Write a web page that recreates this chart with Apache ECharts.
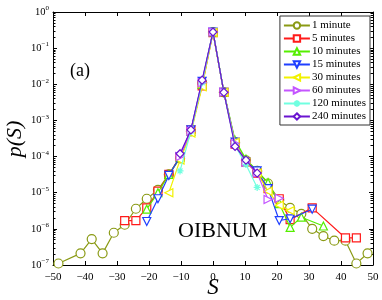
<!DOCTYPE html>
<html><head><meta charset="utf-8">
<script src="https://cdn.jsdelivr.net/npm/echarts@6/dist/echarts.min.js"></script>
<style>html,body{margin:0;padding:0;background:#fff}#c{width:382px;height:300px}</style>
</head><body><div id="c"></div>
<script>
const names = ['1 minute','5 minutes','10 minutes','15 minutes','30 minutes','60 minutes','120 minutes','240 minutes'];
const x1 = [-48.3,-41.4,-37.9,-34.5,-31.0,-27.6,-24.1,-20.7,-17.2,-13.8,-10.3,-6.9,-3.4,0,3.4,6.9,10.3,13.8,17.2,20.7,24.1,27.6,31.0,34.5,37.9,41.4,44.8,48.3];
const y1 = [1.1e-7,2.1e-7,5.2e-7,2.1e-7,7.8e-7,1.3e-6,3.6e-6,6.8e-6,1.2e-5,3.2e-5,8.9e-5,5.0e-4,1.1e-2,0.28,6.0e-3,2.5e-4,7.9e-5,4.0e-5,1.8e-5,6.3e-6,3.8e-6,2.6e-6,1.0e-6,6.3e-7,4.7e-7,4.7e-7,1.1e-7,2.1e-7];
const x5 = [-27.6,-24.1,-20.7,-17.2,-13.8,-10.3,-6.9,-3.4,0,3.4,6.9,10.3,13.8,17.2,20.7,24.1,31.0,41.4,44.8];
const y5 = [1.7e-6,1.7e-6,3.8e-6,1.1e-5,3.2e-5,1.0e-4,5.5e-4,9.0e-3,0.27,6.0e-3,2.2e-4,7.0e-5,3.5e-5,1.3e-5,6.8e-6,1.8e-6,3.8e-6,5.6e-7,5.6e-7];
const x10 = [-20.7,-17.2,-13.8,-10.3,-6.9,-3.4,0,3.4,6.9,10.3,13.8,17.2,20.7,24.1,27.6,34.5];
const y10 = [3.5e-6,1.0e-5,3.2e-5,9.5e-5,5.0e-4,1.0e-2,0.28,6.2e-3,2.8e-4,8.5e-5,4.0e-5,1.9e-5,5.0e-6,1.1e-6,2.1e-6,1.2e-6];
const x15 = [-20.7,-17.2,-13.8,-10.3,-6.9,-3.4,0,3.4,6.9,10.3,13.8,17.2,20.7,24.1,31.0];
const y15 = [1.6e-6,6.8e-6,3.0e-5,1.0e-4,5.5e-4,1.2e-2,0.28,6.0e-3,2.5e-4,7.0e-5,4.0e-5,1.3e-5,1.7e-6,1.9e-6,3.5e-6];
const x30 = [-13.8,-10.3,-6.9,-3.4,0,3.4,6.9,10.3,13.8,17.2,20.7,24.1];
const y30 = [1.0e-5,8.0e-5,4.5e-4,8.5e-3,0.27,6.0e-3,2.5e-4,7.0e-5,3.5e-5,1.1e-5,4.5e-6,3.2e-6];
const x60 = [-10.3,-6.9,-3.4,0,3.4,6.9,10.3,13.8,17.2,20.7];
const y60 = [1.0e-4,5.0e-4,1.1e-2,0.28,6.0e-3,2.3e-4,7.0e-5,3.5e-5,6.5e-6,7.0e-6];
const x120 = [-10.3,-6.9,-3.4,0,3.4,6.9,10.3,13.8];
const y120 = [4.0e-5,5.0e-4,1.1e-2,0.28,6.0e-3,2.0e-4,6.0e-5,1.4e-5];
const x240 = [-10.3,-6.9,-3.4,0,3.4,6.9,10.3,13.8];
const y240 = [1.2e-4,5.5e-4,1.3e-2,0.28,6.0e-3,1.9e-4,8.0e-5,3.5e-5];
const xs = [x1,x5,x10,x15,x30,x60,x120,x240];
const ys = [y1,y5,y10,y15,y30,y60,y120,y240];
const colors = ['#8a9a14','#ff1a1a','#55ee00','#1f3fff','#f2f200','#c455ff','#70ffe0','#6a14d0'];
const symbols = ['circle','rect','triangle','triangle','triangle','triangle','path://M0,5L10,5M5,0L5,10M1.5,1.5L8.5,8.5M8.5,1.5L1.5,8.5','diamond'];
const rotations = [0,0,0,180,90,-90,0,0];

const minorVals = [];
for (let e = -7; e < 0; e++) for (let k = 2; k <= 9; k++) minorVals.push(e + Math.log10(k));

const serif = 'Liberation Serif';
const series = names.map((n, i) => ({
  name: n, type: 'line', xAxisIndex: 0, yAxisIndex: 0,
  data: xs[i].map((x, j) => [x, ys[i][j]]),
  symbol: symbols[i], symbolRotate: rotations[i],
  symbolSize: i === 6 ? 7 : (i === 0 ? 9 : 8),
  lineStyle: { color: colors[i], width: 1.2 },
  itemStyle: { color: i === 6 ? colors[i] : '#fff', borderColor: colors[i], borderWidth: 1.2 },
  emphasis: { disabled: true },
  z: 2 + i, animation: false
}));

const lineStyleAxis = { onZero: false, show: true, lineStyle: { color: '#000', width: 1 } };
const chart = echarts.init(document.getElementById('c'), null, { renderer: 'canvas' });
chart.setOption({
  animation: false,
  grid: { left: 53, right: 9, top: 12, bottom: 35 },
  legend: {
    data: names, orient: 'vertical', right: 12, top: 16,
    backgroundColor: '#fff', borderColor: '#333', borderWidth: 1,
    padding: [3, 4, 2, 3], itemGap: 0, itemWidth: 26, itemHeight: 8,
    textStyle: { fontFamily: serif, fontSize: 11, color: '#000', lineHeight: 13, padding: [0,0,0,-3] }
  },
  xAxis: [
    { type: 'value', min: -50, max: 50, interval: 10, position: 'bottom',
      axisLine: lineStyleAxis,
      axisTick: { inside: true, length: 4, lineStyle: { color: '#000' } },
      axisLabel: { fontFamily: serif, fontSize: 11, color: '#000', margin: 7,
        formatter: v => String(v).replace('-', '\u2212') },
      splitLine: { show: false } },
    { type: 'value', min: -50, max: 50, interval: 10, position: 'top',
      axisLine: lineStyleAxis,
      axisTick: { inside: true, length: 4, lineStyle: { color: '#000' } },
      axisLabel: { show: false }, splitLine: { show: false } }
  ],
  yAxis: [
    { type: 'log', logBase: 10, min: 1e-7, max: 1, interval: 1, position: 'left',
      axisLine: lineStyleAxis,
      axisTick: { inside: true, length: 4, lineStyle: { color: '#000' } },
      axisLabel: { margin: 4,
        formatter: v => '{b|10}{s|' + Math.round(Math.log10(v)).toString().replace('-', '\u2212') + '}',
        rich: { b: { fontFamily: serif, fontSize: 10.5, color: '#000' },
                s: { fontFamily: serif, fontSize: 7, color: '#000', padding: [0, 0, 7, 0] } } },
      splitLine: { show: false } },
    { type: 'log', logBase: 10, min: 1e-7, max: 1, interval: 1, position: 'right',
      axisLine: lineStyleAxis,
      axisTick: { inside: true, length: 4, lineStyle: { color: '#000' } },
      axisLabel: { show: false }, splitLine: { show: false } },
    { type: 'value', min: -7, max: 0, position: 'left',
      axisLine: { show: false, onZero: false },
      axisTick: { show: true, inside: true, length: 2.5, customValues: minorVals, lineStyle: { color: '#000' } },
      axisLabel: { show: false }, splitLine: { show: false } },
    { type: 'value', min: -7, max: 0, position: 'right',
      axisLine: { show: false, onZero: false },
      axisTick: { show: true, inside: true, length: 2.5, customValues: minorVals, lineStyle: { color: '#000' } },
      axisLabel: { show: false }, splitLine: { show: false } }
  ],
  series: series,
  graphic: [
    { type: 'text', x: 213, y: 288, style: { text: 'S', fontFamily: serif, fontStyle: 'italic', fontSize: 23, fill: '#000', textAlign: 'center', textVerticalAlign: 'middle' } },
    { type: 'text', x: 15, y: 139, rotation: Math.PI / 2, style: { text: 'p(S)', fontFamily: serif, fontStyle: 'italic', fontSize: 22, fill: '#000', textAlign: 'center', textVerticalAlign: 'middle' } },
    { type: 'text', x: 80, y: 71, style: { text: '(a)', fontFamily: serif, fontSize: 18, fill: '#000', textAlign: 'center', textVerticalAlign: 'middle' } },
    { type: 'text', x: 178, y: 231, style: { text: 'OIBNUM', fontFamily: serif, fontSize: 22, fill: '#000', textAlign: 'left', textVerticalAlign: 'middle' } }
  ]
});
</script></body></html>
